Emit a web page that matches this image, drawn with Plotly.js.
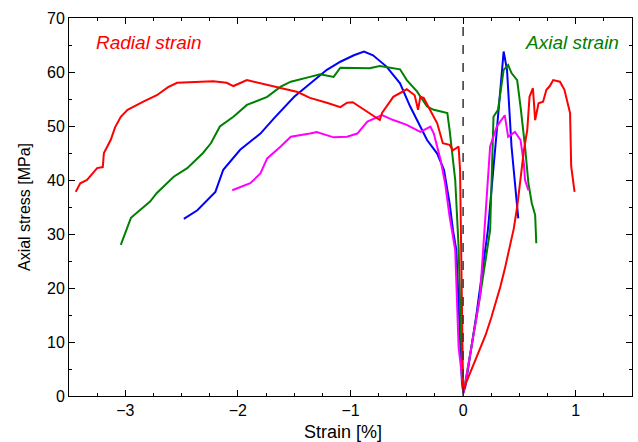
<!DOCTYPE html>
<html>
<head>
<meta charset="utf-8">
<script src="https://cdn.plot.ly/plotly-3.0.1.min.js"></script>
<style>html,body{margin:0;padding:0;background:#fff}#chart{width:638px;height:442px}</style>
</head>
<body>
<div id="chart"></div>
<script>
// ---- Red sample ----
var redRadialX = [0, -0.01, -0.027, -0.04, -0.09, -0.12, -0.18, -0.23, -0.29, -0.35, -0.38, -0.4, -0.43, -0.5, -0.62, -0.72, -0.74, -0.77, -0.85, -0.98, -1.03, -1.09, -1.21, -1.36, -1.47, -1.65, -1.83, -1.92, -2.04, -2.1, -2.22, -2.4, -2.54, -2.62, -2.72, -2.84, -2.98, -3.04, -3.09, -3.13, -3.19, -3.2, -3.25, -3.34, -3.4, -3.44];
var redRadialY = [1, 20, 41.9, 46.2, 45.5, 46.5, 46.8, 50.5, 53, 55.2, 55.4, 53, 55.7, 56.8, 55.4, 52.4, 51.1, 51.5, 52.6, 54.4, 54.3, 53.5, 54.3, 55.2, 56.3, 57.2, 58, 58.5, 57.4, 58, 58.3, 58.1, 58, 57.2, 55.7, 54.5, 53, 51.7, 49.8, 47.4, 45, 42.4, 42.2, 40, 39.4, 37.8];
var redAxialX = [0, 0.03, 0.06, 0.1, 0.15, 0.2, 0.25, 0.3, 0.33, 0.37, 0.41, 0.45, 0.48, 0.51, 0.54, 0.57, 0.59, 0.62, 0.64, 0.67, 0.71, 0.74, 0.77, 0.8, 0.86, 0.9, 0.95, 0.96, 0.99];
var redAxialY = [1.1, 2.6, 4.2, 6.0, 8.5, 11.3, 14.5, 18.0, 20.2, 23.5, 27.0, 31.0, 35.0, 40.5, 45.5, 49.3, 55.4, 57, 51.1, 54.2, 54.5, 56.7, 57.4, 58.5, 58.2, 56.7, 52.4, 42.5, 37.8];
// ---- Green sample ----
var greenRadialX = [0, -0.02, -0.04, -0.07, -0.12, -0.14, -0.26, -0.32, -0.41, -0.5, -0.56, -0.74, -0.83, -0.94, -1.09, -1.15, -1.27, -1.36, -1.53, -1.62, -1.74, -1.92, -2.04, -2.16, -2.24, -2.31, -2.45, -2.57, -2.72, -2.78, -2.87, -2.95, -3.04];
var greenRadialY = [1, 12, 27.6, 40, 49.3, 52.4, 53, 53.6, 56.4, 58.5, 60.5, 61.1, 60.7, 60.8, 60.8, 59.1, 59.6, 59.1, 58.2, 57.3, 55.4, 53.9, 51.7, 49.9, 46.8, 45, 42.2, 40.6, 37.6, 36, 34.4, 33, 28];
var greenAxialX = [0, 0.01, 0.15, 0.24, 0.27, 0.31, 0.36, 0.4, 0.43, 0.48, 0.51, 0.55, 0.58, 0.61, 0.64, 0.65];
var greenAxialY = [0.5, 1.4, 18.4, 30.7, 51.7, 53, 60.4, 61.3, 59.8, 58.5, 53.6, 46.2, 39.4, 35.7, 33.5, 28.3];
// ---- Blue sample ----
var blueRadialX = [0, -0.01, -0.06, -0.09, -0.12, -0.17, -0.23, -0.32, -0.38, -0.47, -0.56, -0.68, -0.8, -0.88, -0.97, -1.09, -1.21, -1.36, -1.5, -1.68, -1.8, -1.98, -2.13, -2.2, -2.27, -2.36, -2.48];
var blueRadialY = [1, 2.4, 27, 30.7, 35.7, 41.9, 44.9, 47.4, 49.9, 53.6, 57.9, 61, 63.1, 63.8, 63.1, 61.9, 60.4, 57.9, 55.4, 51.4, 48.6, 45.6, 41.9, 37.8, 36.3, 34.4, 32.8];
var blueAxialX = [0, 0.02, 0.12, 0.22, 0.3, 0.36, 0.39, 0.43, 0.49];
var blueAxialY = [0.5, 1.7, 15.3, 30.7, 49.3, 63.8, 60.4, 46.2, 32.9];
// ---- Magenta sample ----
var magRadialX = [0, -0.01, -0.04, -0.07, -0.12, -0.16, -0.2, -0.26, -0.29, -0.38, -0.5, -0.62, -0.72, -0.85, -0.94, -1.03, -1.15, -1.3, -1.36, -1.53, -1.62, -1.74, -1.8, -1.89, -2.05];
var magRadialY = [1, 3.6, 9.1, 27, 33.2, 39.4, 43.7, 48.6, 49.9, 48.9, 50.2, 51.1, 52, 50.8, 48.6, 48, 47.9, 48.9, 48.6, 48, 46.2, 44, 41.2, 39.4, 38.1];
var magAxialX = [0, 0.02, 0.15, 0.24, 0.3, 0.37, 0.4, 0.46, 0.51, 0.54, 0.55, 0.58];
var magAxialY = [0.5, 2.4, 18.4, 46.2, 49.9, 52, 48, 48.9, 47.4, 43, 40, 38.1];

var xTickVals = [-3, -2, -1, 0, 1];
var yTickVals = [0, 10, 20, 30, 40, 50, 60, 70];

function tr(x, y, color) {
  return {x: x, y: y, type: 'scatter', mode: 'lines', line: {color: color, width: 2}, hoverinfo: 'skip', showlegend: false};
}

var data = [
  tr(blueRadialX, blueRadialY, '#0000ff'),
  tr(blueAxialX, blueAxialY, '#0000ff'),
  tr(greenRadialX, greenRadialY, '#008000'),
  tr(greenAxialX, greenAxialY, '#008000'),
  tr(magRadialX, magRadialY, '#ff00ff'),
  tr(magAxialX, magAxialY, '#ff00ff'),
  tr(redRadialX, redRadialY, '#ff0000'),
  tr(redAxialX, redAxialY, '#ff0000')
];

var layout = {
  width: 638, height: 442,
  margin: {l: 69, r: 6, t: 18, b: 46},
  paper_bgcolor: '#fff', plot_bgcolor: '#fff',
  font: {family: 'Liberation Sans, Arial, sans-serif', color: '#000', size: 16},
  xaxis: {
    range: [-3.5, 1.5], tickvals: xTickVals, ticks: 'inside', ticklen: 6, tickcolor: '#000',
    showgrid: false, zeroline: false, showline: true, linecolor: '#000', linewidth: 1, mirror: 'ticks',
    minor: {dtick: 0.25, ticks: 'inside', ticklen: 3, tickcolor: '#000', showgrid: false},
    tickfont: {size: 16}
  },
  yaxis: {
    range: [0, 70], tickvals: yTickVals, ticks: 'inside', ticklen: 6, tickcolor: '#000',
    showgrid: false, zeroline: false, showline: true, linecolor: '#000', linewidth: 1, mirror: 'ticks',
    minor: {dtick: 5, ticks: 'inside', ticklen: 3, tickcolor: '#000', showgrid: false},
    title: {text: 'Axial stress [MPa]', font: {size: 16}, standoff: 12},
    tickfont: {size: 16}
  },
  shapes: [{type: 'line', xref: 'x', yref: 'y', x0: 0, x1: 0, y0: 0, y1: 70, line: {color: '#333', width: 1.5, dash: 'dash'}}],
  annotations: [
    {x: -1.07, y: -0.095, xref: 'x', yref: 'paper', xanchor: 'center', yanchor: 'middle', showarrow: false,
     text: 'Strain [%]', font: {size: 18, color: '#000'}},
    {x: -3.28, y: 65.4, xref: 'x', yref: 'y', xanchor: 'left', yanchor: 'middle', showarrow: false,
     text: '<i>Radial strain</i>', font: {size: 19, color: '#ff0000'}},
    {x: 0.53, y: 65.4, xref: 'x', yref: 'y', xanchor: 'left', yanchor: 'middle', showarrow: false,
     text: '<i>Axial strain</i>', font: {size: 19, color: '#008000'}}
  ]
};

Plotly.newPlot('chart', data, layout, {displayModeBar: false, staticPlot: true});
</script>
</body>
</html>
